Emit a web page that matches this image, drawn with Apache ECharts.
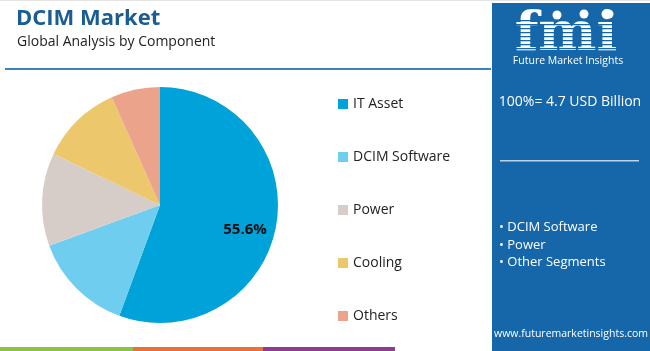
<!DOCTYPE html>
<html>
<head>
<meta charset="utf-8">
<script src="https://cdn.jsdelivr.net/npm/echarts@6/dist/echarts.min.js"></script>
<style>
  html, body { margin: 0; padding: 0; background: #fff; }
  #chart { width: 650px; height: 351px; }
</style>
</head>
<body>
<div id="chart"></div>
<script>
var categories = ['IT Asset', 'DCIM Software', 'Power', 'Cooling', 'Others'];
var shares = [55.6, 13.8, 12.7, 11.2, 6.7];
var colors = ['#00a2da', '#6fcdf0', '#d7cdc8', '#ecc76b', '#eca38b'];
var panelBullets = ['• DCIM Software', '• Power', '• Other Segments'];

var FONT = '"Open Sans", Lato, sans-serif';
var PANEL = '#1666aa';

var myChart = echarts.init(document.getElementById('chart'));

// stripes over the logo letters
var stripes = [];
for (var y = 20; y < 50; y += 4) {
    stripes.push({
        type: 'rect', shape: { x: 510, y: y, width: 115, height: 1.3 },
        style: { fill: PANEL }, z: 12
    });
}

option = {
    animation: false,
    color: colors,
    title: [
        { text: 'DCIM Market', left: 11, top: 3,
          textStyle: { fontFamily: FONT, fontSize: 22, fontWeight: 'bold', color: '#1b5d93' } },
        { text: 'Global Analysis by Component', left: 12, top: 30,
          textStyle: { fontFamily: FONT, fontSize: 14, fontWeight: 'normal', color: '#222' } }
    ],
    legend: {
        orient: 'vertical',
        left: 333,
        top: 91,
        itemWidth: 10,
        itemHeight: 10,
        itemGap: 37,
        icon: 'rect',
        textStyle: { fontFamily: FONT, fontSize: 14, color: '#222', lineHeight: 16 },
        data: categories
    },
    graphic: [
        { type: 'rect', shape: { x: 0, y: 0, width: 650, height: 1 }, style: { fill: '#e4e4e4' } },
        { type: 'rect', shape: { x: 5, y: 68, width: 486, height: 2 }, style: { fill: '#3b83b8' } },
        { type: 'rect', shape: { x: 0, y: 347, width: 133, height: 4 }, style: { fill: '#8bc34a' } },
        { type: 'rect', shape: { x: 133, y: 347, width: 130, height: 4 }, style: { fill: '#e8703a' } },
        { type: 'rect', shape: { x: 263, y: 347, width: 132, height: 4 }, style: { fill: '#8c3d92' } },
        { type: 'rect', shape: { x: 492, y: 3, width: 158, height: 348 }, style: { fill: PANEL }, z: 10 },
        { type: 'text', x: 566, y: 36, z: 11,
          style: { text: 'fmi', fontFamily: 'DejaVu Serif', fontWeight: 'bold', fontSize: 55,
                   fill: '#fff', textAlign: 'center', textVerticalAlign: 'middle' } },
        { type: 'group', children: stripes },
        { type: 'circle', shape: { cx: 557, cy: 15, r: 4.5 }, style: { fill: '#fff' }, z: 13 },
        { type: 'circle', shape: { cx: 584, cy: 14, r: 4.5 }, style: { fill: '#fff' }, z: 13 },
        { type: 'circle', shape: { cx: 609, cy: 14, r: 4.5 }, style: { fill: '#fff' }, z: 13 },
        { type: 'text', x: 568, y: 56, z: 13,
          style: { text: 'Future Market Insights', fontFamily: FONT, fontSize: 10.5,
                   fill: '#fff', textAlign: 'center' } },
        { type: 'text', x: 570, y: 95, z: 13,
          style: { text: '100%= 4.7 USD Billion', fontFamily: FONT, fontSize: 14,
                   fill: '#fff', textAlign: 'center' } },
        { type: 'rect', shape: { x: 500, y: 160, width: 139, height: 1.5 },
          style: { fill: '#b9d3ea' }, z: 13 },
        { type: 'text', x: 499, y: 219, z: 13,
          style: { text: panelBullets.join('\n'), fontFamily: FONT, fontSize: 13,
                   lineHeight: 17.5, fill: '#fff' } },
        { type: 'text', x: 571, y: 329, z: 13,
          style: { text: 'www.futuremarketinsights.com', fontFamily: FONT, fontSize: 10.5,
                   fill: '#fff', textAlign: 'center' } }
    ],
    series: [{
        name: 'DCIM Market',
        type: 'pie',
        center: [160, 205],
        radius: [0, 118],
        startAngle: 90,
        clockwise: true,
        silent: true,
        label: {
            show: true,
            position: 'inside',
            fontFamily: FONT,
            fontSize: 15,
            fontWeight: 'bold',
            color: '#111',
            formatter: function (p) {
                return p.dataIndex === 0 ? p.value + '%' : '';
            }
        },
        labelLayout: function (p) {
            return p.dataIndex === 0 ? { dx: 24, dy: 14 } : {};
        },
        labelLine: { show: false },
        data: categories.map(function (c, i) {
            return { name: c, value: shares[i] };
        })
    }]
};

myChart.setOption(option);
</script>
</body>
</html>
